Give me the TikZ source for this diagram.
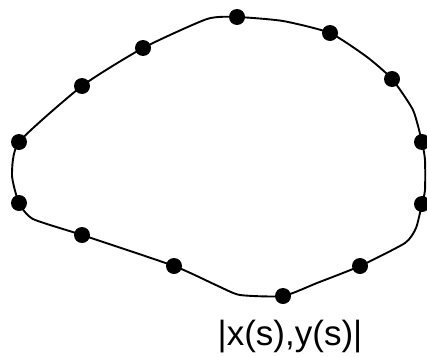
\documentclass[tikz,border=0pt]{standalone}
\usepackage{fontspec}
\setmainfont{Liberation Sans}
\begin{document}
\begin{tikzpicture}[x=1pt,y=-1pt,
  dot/.style={circle,fill=black,inner sep=0pt,minimum size=16pt},
  outline/.style={line width=1.9pt,line join=round}]
\useasboundingbox (0,0) rectangle (427,356);
% curve through dot centres and shape points
\draw[outline] plot[smooth cycle,tension=0.35] coordinates {
  (143,48) (207,19) (237,17) (283,21) (330,33) (367,57) (392,79) (413,110)
  (422,142) (425,160) (425,190) (422,204) (416,228) (405,243) (360,266)
  (317,283) (283,296) (240,295) (218,286) (174,266) (82,235) (33,219)
  (19,203) (12,175) (19,142) (82,86)};
\node[dot] (d1) at (237,17) {};
\node[dot] (d2) at (330,33) {};
\node[dot] (d3) at (392,79) {};
\node[dot] (d4) at (422,142) {};
\node[dot] (d5) at (422,204) {};
\node[dot] (d6) at (360,266) {};
\node[dot] (d7) at (283,296) {};
\node[dot] (d8) at (174,266) {};
\node[dot] (d9) at (82,235) {};
\node[dot] (d10) at (19,203) {};
\node[dot] (d11) at (19,142) {};
\node[dot] (d12) at (82,86) {};
\node[dot] (d13) at (143,48) {};
\node[font=\fontsize{35}{40}\selectfont,inner sep=0pt,anchor=base] (lbl) at (290,345) {|x(s),y(s)|};
\end{tikzpicture}
\end{document}
